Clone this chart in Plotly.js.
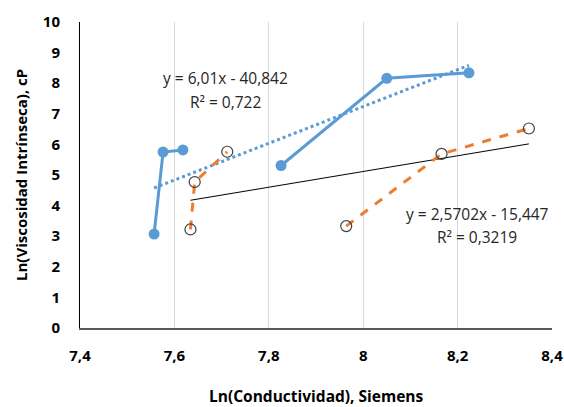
<!DOCTYPE html>
<html>
<head>
<meta charset="utf-8">
<script src="https://cdn.plot.ly/plotly-3.0.1.min.js"></script>
<style>html,body{margin:0;padding:0;background:#fff;}#chart{width:564px;height:407px;}</style>
</head>
<body>
<div id="chart"></div>
<script>
// Series 1 (blue, filled markers); null marks the break in the line
const blueX = [7.557, 7.576, 7.618, null, 7.826, 8.050, 8.224];
const blueY = [3.07, 5.75, 5.82, null, 5.31, 8.16, 8.34];
// Series 2 (orange dashed, open markers)
const orangeX = [7.634, 7.643, 7.712, null, 7.964, 8.166, 8.351];
const orangeY = [3.22, 4.77, 5.76, null, 3.33, 5.69, 6.52];
// Trendline equations shown on the chart
const blueFit = {slope: 6.01, intercept: -40.842, label: "y = 6,01x - 40,842", r2: "R² = 0,722"};
const orangeFit = {slope: 2.5702, intercept: -15.447, label: "y = 2,5702x - 15,447", r2: "R² = 0,3219"};
const xTicks = [7.4, 7.6, 7.8, 8.0, 8.2, 8.4];
const yTicks = [0,1,2,3,4,5,6,7,8,9,10];

function fitLine(xs, fit) {
  const v = xs.filter(x => x !== null);
  const x0 = Math.min(...v), x1 = Math.max(...v);
  return {x: [x0, x1], y: [fit.slope * x0 + fit.intercept, fit.slope * x1 + fit.intercept]};
}
const bl = fitLine(blueX, blueFit);
const ol = fitLine(orangeX, orangeFit);

const FONT = "Open Sans, sans-serif";
const data = [
  {x: bl.x, y: bl.y, mode: 'lines', line: {color: '#5B9BD5', width: 3, dash: 'dot'}, hoverinfo: 'skip'},
  {x: ol.x, y: ol.y, mode: 'lines', line: {color: '#000000', width: 1}, hoverinfo: 'skip'},
  {x: blueX, y: blueY, mode: 'lines+markers', connectgaps: false,
   line: {color: '#5B9BD5', width: 3}, marker: {color: '#5B9BD5', size: 11}},
  {x: orangeX, y: orangeY, mode: 'lines+markers', connectgaps: false,
   line: {color: '#ED7D31', width: 3, dash: 'dash'},
   marker: {symbol: 'circle-open', color: '#404040', size: 11, line: {width: 1.2, color: '#404040'}}}
];

const layout = {
  width: 564, height: 407,
  margin: {l: 80, r: 12, t: 22, b: 79},
  paper_bgcolor: '#ffffff', plot_bgcolor: '#ffffff',
  showlegend: false,
  separators: ',.',
  font: {family: FONT, color: '#000000'},
  xaxis: {
    range: [7.4, 8.4], tickvals: xTicks, ticktext: xTicks.map(v => String(v).replace('.', ',')),
    showgrid: true, gridcolor: '#D9D9D9', gridwidth: 1,
    showline: true, linecolor: '#595959', linewidth: 1.5,
    zeroline: false, ticks: '', ticklabelstandoff: 13,
    tickfont: {family: FONT, size: 15, color: '#000', weight: 'bold'}
  },
  yaxis: {
    range: [0, 10], tickvals: yTicks,
    showgrid: false, showline: true, linecolor: '#000000', linewidth: 1,
    zeroline: false, ticks: '', ticklabelstandoff: 16,
    tickfont: {family: FONT, size: 15, color: '#000', weight: 'bold'}
  },
  annotations: [
    {xref: 'paper', yref: 'paper', x: (316 - 80) / 472, y: (328 - 396) / 306, xanchor: 'center', yanchor: 'middle',
     text: 'Ln(Conductividad), Siemens', showarrow: false, font: {family: FONT, size: 15.5, weight: 'bold'}},
    {xref: 'paper', yref: 'paper', x: (21 - 80) / 472, y: (328 - 175) / 306, xanchor: 'center', yanchor: 'middle',
     text: 'Ln(Viscosidad Intrínseca), cP', textangle: -90, showarrow: false, font: {family: FONT, size: 15, weight: 'bold'}},
    {xref: 'paper', yref: 'paper', x: (225 - 80) / 472, y: (328 - 78) / 306, xanchor: 'center', yanchor: 'middle',
     text: blueFit.label, showarrow: false, font: {family: FONT, size: 15.5, color: '#262626'}},
    {xref: 'paper', yref: 'paper', x: (225 - 80) / 472, y: (328 - 102) / 306, xanchor: 'center', yanchor: 'middle',
     text: blueFit.r2, showarrow: false, font: {family: FONT, size: 15.5, color: '#262626'}},
    {xref: 'paper', yref: 'paper', x: (477 - 80) / 472, y: (328 - 214) / 306, xanchor: 'center', yanchor: 'middle',
     text: orangeFit.label, showarrow: false, font: {family: FONT, size: 15.5, color: '#262626'}},
    {xref: 'paper', yref: 'paper', x: (477 - 80) / 472, y: (328 - 237) / 306, xanchor: 'center', yanchor: 'middle',
     text: orangeFit.r2, showarrow: false, font: {family: FONT, size: 15.5, color: '#262626'}}
  ]
};
Plotly.newPlot('chart', data, layout, {displayModeBar: false, staticPlot: true});
</script>
</body>
</html>
